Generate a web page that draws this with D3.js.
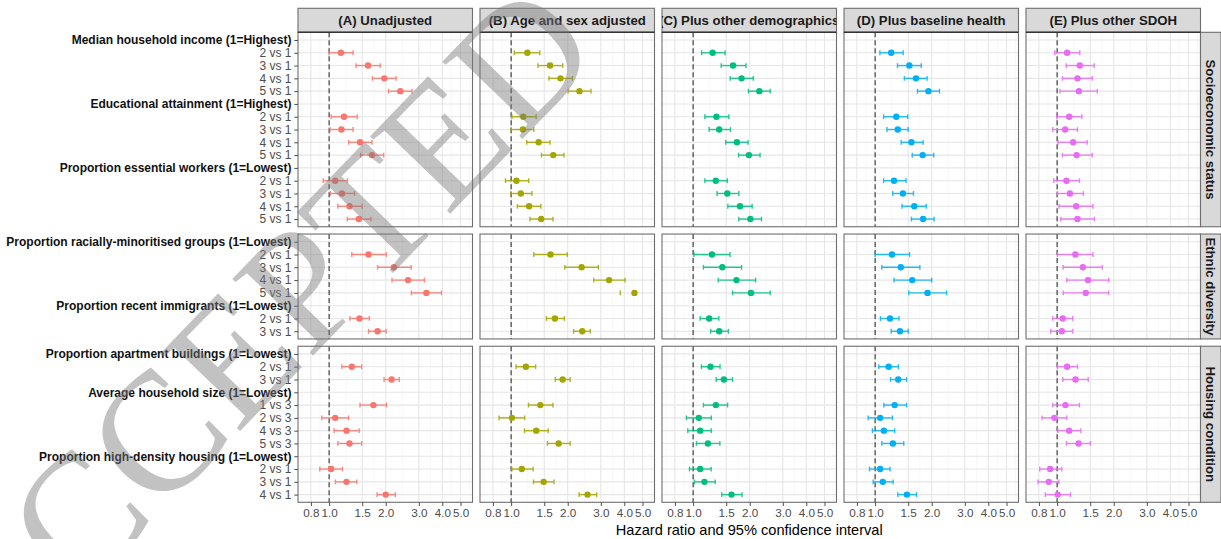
<!DOCTYPE html>
<html>
<head>
<meta charset="utf-8">
<script src="https://cdn.jsdelivr.net/npm/d3@7"></script>
<style>
  body { margin: 0; background: #fff; }
  svg { display: block; }
</style>
</head>
<body>
<svg id="chart" width="1221" height="539"></svg>
<script>
// ---- Data -----------------------------------------------------------------
const models = ["(A) Unadjusted", "(B) Age and sex adjusted", "(C) Plus other demographics",
                "(D) Plus baseline health", "(E) Plus other SDOH"];
const modelColors = ["#F8766D", "#A3A500", "#00BF7D", "#00B0F6", "#E76BF3"];

const domains = ["Socioeconomic status", "Ethnic diversity", "Housing condition"];

const variables = [
  "Median household income (1=Highest)",
  "Educational attainment (1=Highest)",
  "Proportion essential workers (1=Lowest)",
  "Proportion racially-minoritised groups (1=Lowest)",
  "Proportion recent immigrants (1=Lowest)",
  "Proportion apartment buildings (1=Lowest)",
  "Average household size (1=Lowest)",
  "Proportion high-density housing (1=Lowest)"
];
const variableDomain = [0, 0, 0, 1, 1, 2, 2, 2];
const variableLevels = [
  ["2 vs 1", "3 vs 1", "4 vs 1", "5 vs 1"],
  ["2 vs 1", "3 vs 1", "4 vs 1", "5 vs 1"],
  ["2 vs 1", "3 vs 1", "4 vs 1", "5 vs 1"],
  ["2 vs 1", "3 vs 1", "4 vs 1", "5 vs 1"],
  ["2 vs 1", "3 vs 1"],
  ["2 vs 1", "3 vs 1"],
  ["1 vs 3", "2 vs 3", "4 vs 3", "5 vs 3"],
  ["2 vs 1", "3 vs 1", "4 vs 1"]
];

const xTicks = [0.8, 1.0, 1.5, 2.0, 3.0, 4.0, 5.0];
const xDomain = [0.683, 5.79];

// [hazard ratio, lower 95% limit, upper 95% limit], in variable / level order
const unadjusted = [
  [1.155, 1.00, 1.34], [1.61, 1.39, 1.87], [1.965, 1.70, 2.27], [2.39, 2.07, 2.76],
  [1.20, 1.025, 1.41], [1.163, 1.012, 1.34], [1.46, 1.27, 1.69], [1.69, 1.47, 1.95],
  [1.077, 0.93, 1.25], [1.17, 1.016, 1.365], [1.283, 1.113, 1.50], [1.44, 1.25, 1.67],
  [1.62, 1.32, 2.015], [2.21, 1.81, 2.73], [2.63, 2.16, 3.21], [3.29, 2.74, 3.96],
  [1.45, 1.29, 1.635], [1.81, 1.62, 2.01],
  [1.32, 1.169, 1.49], [2.15, 1.96, 2.36],
  [1.72, 1.46, 2.02], [1.077, 0.914, 1.268], [1.237, 1.063, 1.445], [1.283, 1.113, 1.49],
  [1.025, 0.892, 1.178], [1.237, 1.08, 1.405], [2.0, 1.80, 2.25]
];
const ageSexAdjusted = [
  [1.22, 1.04, 1.42], [1.61, 1.39, 1.88], [1.83, 1.59, 2.12], [2.31, 2.01, 2.66],
  [1.16, 1.01, 1.36], [1.155, 1.0, 1.32], [1.40, 1.21, 1.61], [1.675, 1.45, 1.91],
  [1.067, 0.933, 1.24], [1.126, 0.996, 1.29], [1.247, 1.08, 1.44], [1.445, 1.26, 1.67],
  [1.62, 1.32, 1.99], [2.37, 1.93, 2.91], [3.32, 2.75, 4.04], [4.53, 3.81, null],
  [1.71, 1.54, 1.92], [2.39, 2.15, 2.64],
  [1.198, 1.063, 1.35], [1.88, 1.716, 2.06],
  [1.43, 1.237, 1.67], [1.01, 0.863, 1.18], [1.36, 1.178, 1.575], [1.79, 1.56, 2.06],
  [1.14, 1.01, 1.31], [1.49, 1.315, 1.69], [2.55, 2.30, 2.85]
];
const plusDemographics = [
  [1.27, 1.11, 1.48], [1.63, 1.41, 1.91], [1.81, 1.575, 2.09], [2.25, 1.97, 2.57],
  [1.33, 1.155, 1.55], [1.376, 1.217, 1.58], [1.71, 1.49, 1.96], [1.98, 1.745, 2.27],
  [1.32, 1.155, 1.52], [1.52, 1.34, 1.75], [1.775, 1.53, 2.06], [2.015, 1.75, 2.31],
  [1.26, 1.01, 1.57], [1.43, 1.135, 1.81], [1.70, 1.36, 2.15], [2.03, 1.62, 2.57],
  [1.217, 1.09, 1.37], [1.376, 1.24, 1.54],
  [1.237, 1.107, 1.39], [1.458, 1.327, 1.62],
  [1.32, 1.135, 1.525], [1.072, 0.921, 1.25], [1.09, 0.937, 1.25], [1.198, 1.041, 1.388],
  [1.09, 0.956, 1.247], [1.149, 1.016, 1.31], [1.60, 1.42, 1.82]
];
const plusBaselineHealth = [
  [1.217, 1.06, 1.41], [1.52, 1.315, 1.76], [1.65, 1.43, 1.89], [1.92, 1.68, 2.20],
  [1.295, 1.11, 1.49], [1.32, 1.155, 1.50], [1.56, 1.376, 1.80], [1.79, 1.575, 2.05],
  [1.26, 1.11, 1.46], [1.405, 1.24, 1.60], [1.615, 1.39, 1.87], [1.80, 1.56, 2.06],
  [1.23, 1.0, 1.525], [1.37, 1.085, 1.73], [1.575, 1.26, 2.0], [1.90, 1.51, 2.40],
  [1.20, 1.067, 1.34], [1.355, 1.217, 1.50],
  [1.18, 1.046, 1.33], [1.327, 1.207, 1.47],
  [1.27, 1.113, 1.47], [1.063, 0.918, 1.237], [1.113, 0.967, 1.27], [1.243, 1.085, 1.42],
  [1.063, 0.933, 1.20], [1.099, 0.976, 1.247], [1.476, 1.32, 1.66]
];
const plusOtherSdoh = [
  [1.13, 0.972, 1.32], [1.32, 1.117, 1.575], [1.283, 1.067, 1.537], [1.305, 1.034, 1.635],
  [1.159, 0.996, 1.354], [1.103, 0.948, 1.283], [1.217, 1.012, 1.445], [1.27, 1.067, 1.537],
  [1.121, 0.96, 1.315], [1.169, 1.004, 1.38], [1.263, 1.025, 1.55], [1.283, 1.046, 1.58],
  [1.25, 1.004, 1.55], [1.37, 1.077, 1.74], [1.46, 1.126, 1.88], [1.42, 1.077, 1.88],
  [1.072, 0.948, 1.21], [1.059, 0.925, 1.21],
  [1.13, 1.004, 1.283], [1.252, 1.072, 1.463],
  [1.107, 0.948, 1.315], [0.967, 0.832, 1.126], [1.159, 1.008, 1.338], [1.30, 1.121, 1.506],
  [0.918, 0.808, 1.059], [0.903, 0.792, 1.021], [1.008, 0.866, 1.178]
];
const estimates = [unadjusted, ageSexAdjusted, plusDemographics, plusBaselineHealth, plusOtherSdoh];

// ---- Layout ---------------------------------------------------------------
const L = {
  left: 298, right: 1200.5, colGap: 7.5,
  stripTop: 8.3, top: 32.3, bottom: 502.3, rowGap: 7.3, sideStripW: 20.5
};
const panelW = (L.right - L.left - L.colGap * (models.length - 1)) / models.length;

const svg = d3.select("#chart");
svg.append("rect").attr("width", 1221).attr("height", 539).attr("fill", "#fff");

// Rows of each domain: a bold header per variable followed by its comparisons
const levelOffset = [];
variableLevels.reduce((acc, lv, i) => { levelOffset[i] = acc; return acc + lv.length; }, 0);

const domainRows = domains.map((d, di) => {
  const rows = [];
  variables.forEach((v, vi) => {
    if (variableDomain[vi] !== di) return;
    rows.push({ id: "h" + vi, label: v, header: true });
    variableLevels[vi].forEach((lv, li) =>
      rows.push({ id: "r" + vi + "_" + li, label: lv, header: false, k: levelOffset[vi] + li }));
  });
  return rows;
});

const units = domainRows.map(r => r.length - 1 + 1.2);
const unit = (L.bottom - L.top - L.rowGap * (domains.length - 1)) / d3.sum(units);
let cursor = L.top;
const domainBox = units.map(u => {
  const box = { y0: cursor, y1: cursor + u * unit };
  cursor = box.y1 + L.rowGap;
  return box;
});

const yScales = domainRows.map((rows, di) =>
  d3.scalePoint().domain(rows.map(r => r.id))
    .range([domainBox[di].y0, domainBox[di].y1]).padding(0.6));

const xScales = models.map((m, ci) => {
  const x0 = L.left + ci * (panelW + L.colGap);
  return d3.scaleLog().domain(xDomain).range([x0, x0 + panelW]);
});

// Minor breaks: log-midpoints between major breaks, extended one step each side
const logT = xTicks.map(Math.log);
const stepLo = logT[1] - logT[0];
const extended = [logT[0] - stepLo, ...logT, logT[logT.length - 1] + stepLo];
const xMinor = d3.pairs(extended).map(([a, b]) => Math.exp((a + b) / 2))
  .filter(v => v > xDomain[0] && v < xDomain[1]);

const font = "'Liberation Sans', Arial, Helvetica, sans-serif";

// ---- Panels ---------------------------------------------------------------
domains.forEach((d, di) => {
  const y = yScales[di];
  const box = domainBox[di];
  models.forEach((m, ci) => {
    const x = xScales[ci];
    const [x0, x1] = x.range();
    const g = svg.append("g");
    g.append("rect").attr("x", x0).attr("y", box.y0).attr("width", x1 - x0)
      .attr("height", box.y1 - box.y0).attr("fill", "#fff");

    g.selectAll("line.minor").data(xMinor).join("line")
      .attr("x1", v => x(v)).attr("x2", v => x(v))
      .attr("y1", box.y0).attr("y2", box.y1)
      .attr("stroke", "#f1f1f1").attr("stroke-width", 0.6);
    g.selectAll("line.majorx").data(xTicks).join("line")
      .attr("x1", v => x(v)).attr("x2", v => x(v))
      .attr("y1", box.y0).attr("y2", box.y1)
      .attr("stroke", "#e6e6e6").attr("stroke-width", 1.1);
    g.selectAll("line.majory").data(domainRows[di]).join("line")
      .attr("x1", x0).attr("x2", x1)
      .attr("y1", r => y(r.id)).attr("y2", r => y(r.id))
      .attr("stroke", "#e6e6e6").attr("stroke-width", 1.1);

    // Reference line at HR = 1
    g.append("line").attr("x1", x(1)).attr("x2", x(1))
      .attr("y1", box.y0).attr("y2", box.y1)
      .attr("stroke", "#333").attr("stroke-width", 1.1).attr("stroke-dasharray", "5,3");

    const rows = domainRows[di].filter(r => !r.header);
    const col = modelColors[ci];
    const est = estimates[ci];
    const cap = 2.4;
    const eb = g.selectAll("g.eb").data(rows).join("g").attr("class", "eb")
      .attr("stroke", col).attr("stroke-width", 1.4).attr("opacity", 0.85);
    eb.filter(r => est[r.k][1] != null && est[r.k][2] != null).append("line")
      .attr("x1", r => x(est[r.k][1])).attr("x2", r => x(est[r.k][2]))
      .attr("y1", r => y(r.id)).attr("y2", r => y(r.id));
    eb.filter(r => est[r.k][1] != null).append("line")
      .attr("x1", r => x(est[r.k][1])).attr("x2", r => x(est[r.k][1]))
      .attr("y1", r => y(r.id) - cap).attr("y2", r => y(r.id) + cap);
    eb.filter(r => est[r.k][2] != null).append("line")
      .attr("x1", r => x(est[r.k][2])).attr("x2", r => x(est[r.k][2]))
      .attr("y1", r => y(r.id) - cap).attr("y2", r => y(r.id) + cap);
    g.selectAll("circle").data(rows).join("circle")
      .attr("cx", r => x(est[r.k][0])).attr("cy", r => y(r.id)).attr("r", 3.2)
      .attr("fill", col);

    g.append("rect").attr("x", x0).attr("y", box.y0).attr("width", x1 - x0)
      .attr("height", box.y1 - box.y0).attr("fill", "none")
      .attr("stroke", "#6e6e6e").attr("stroke-width", 1.1);
  });

  // Row facet strip
  const sx = L.right;
  svg.append("rect").attr("x", sx).attr("y", box.y0).attr("width", L.sideStripW)
    .attr("height", box.y1 - box.y0).attr("fill", "#d9d9d9")
    .attr("stroke", "#6e6e6e").attr("stroke-width", 1.1);
  svg.append("text")
    .attr("transform", `translate(${sx + L.sideStripW / 2},${(box.y0 + box.y1) / 2}) rotate(90)`)
    .attr("text-anchor", "middle").attr("dy", "0.35em")
    .attr("font-family", font).attr("font-weight", "bold").attr("font-size", 13.2)
    .attr("fill", "#1a1a1a").text(d);

  // Y axis with variable headers in bold
  const yAxis = d3.axisLeft(y).tickSize(3.7).tickPadding(2.9)
    .tickFormat(id => domainRows[di].find(r => r.id === id).label);
  const ya = svg.append("g").attr("transform", `translate(${L.left},0)`).call(yAxis);
  ya.select(".domain").remove();
  ya.selectAll(".tick line").attr("stroke", "#4d4d4d").attr("stroke-width", 1);
  ya.selectAll(".tick text")
    .attr("font-family", font).attr("font-size", 12)
    .attr("font-weight", id => domainRows[di].find(r => r.id === id).header ? "bold" : "normal")
    .attr("fill", id => domainRows[di].find(r => r.id === id).header ? "#111" : "#4d4d4d");
});

// ---- Column strips --------------------------------------------------------
const defs = svg.append("defs");
models.forEach((m, ci) => {
  const [x0, x1] = xScales[ci].range();
  defs.append("clipPath").attr("id", "strip" + ci).append("rect")
    .attr("x", x0).attr("y", L.stripTop).attr("width", x1 - x0).attr("height", L.top - L.stripTop);
  svg.append("rect").attr("x", x0).attr("y", L.stripTop).attr("width", x1 - x0)
    .attr("height", L.top - L.stripTop).attr("fill", "#d9d9d9")
    .attr("stroke", "#6e6e6e").attr("stroke-width", 1.1);
  svg.append("text").attr("clip-path", `url(#strip${ci})`)
    .attr("x", (x0 + x1) / 2).attr("y", (L.stripTop + L.top) / 2).attr("dy", "0.36em")
    .attr("text-anchor", "middle").attr("font-family", font).attr("font-weight", "bold")
    .attr("font-size", 13.2).attr("fill", "#1a1a1a").text(m);
  svg.append("line").attr("x1", x0).attr("x2", x1).attr("y1", L.top).attr("y2", L.top)
    .attr("stroke", "#333").attr("stroke-width", 1.4);

  // X axis
  const xAxis = d3.axisBottom(xScales[ci]).tickValues(xTicks)
    .tickFormat(d3.format(".1f")).tickSize(3.7).tickPadding(2.5).tickSizeOuter(0);
  const xa = svg.append("g").attr("transform", `translate(0,${L.bottom})`).call(xAxis);
  xa.select(".domain").remove();
  xa.selectAll(".tick line").attr("stroke", "#4d4d4d").attr("stroke-width", 1);
  xa.selectAll(".tick text").attr("font-family", font).attr("font-size", 11.7).attr("fill", "#4d4d4d");
});

svg.append("text").attr("x", (L.left + L.right) / 2).attr("y", 535)
  .attr("text-anchor", "middle").attr("font-family", font).attr("font-size", 14.6)
  .attr("fill", "#000").text("Hazard ratio and 95% confidence interval");

// ---- Watermark ------------------------------------------------------------
svg.append("text")
  .attr("transform", "translate(-6,686) rotate(-46)")
  .attr("font-family", "'Liberation Serif', 'Times New Roman', serif")
  .attr("font-size", 170).attr("fill", "#7a7a7a").attr("opacity", 0.45)
  .attr("pointer-events", "none")
  .text("ACCEPTED");
</script>
</body>
</html>
